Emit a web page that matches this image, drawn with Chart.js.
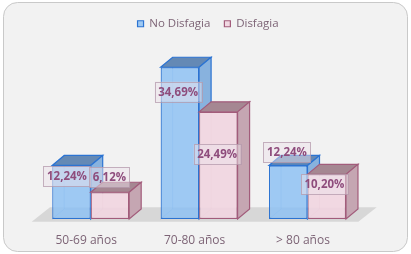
<!DOCTYPE html>
<html><head><meta charset="utf-8">
<script src="https://cdn.jsdelivr.net/npm/chart.js@4.4.1/dist/chart.umd.min.js"></script>
<style>html,body{margin:0;padding:0;background:#fff}#wrap{width:411px;height:254px;position:relative}</style>
</head><body><div id="wrap"><canvas id="c"></canvas></div>
<script>
const categories = ['50-69 años', '70-80 años', '> 80 años'];
const seriesNames = ['No Disfagia', 'Disfagia'];
const noDisfagia = [12.24, 34.69, 12.24];
const disfagia = [6.12, 24.49, 10.20];

const fmt = v => v.toFixed(2).replace('.', ',') + '%';
const TEXT = '#7d6476';
const FONT = '"Open Sans", Lato, sans-serif';

const styles = [
  {front: 'rgba(146,195,243,0.88)', top: '#6489b5', side: '#88b2de', edge: '#2b73d2', back: 'rgba(43,115,210,0.35)'},
  {front: 'rgba(241,214,225,0.92)', top: '#a58792', side: '#c5a6b2', edge: '#a25c7b', back: 'rgba(162,92,123,0.35)'}
];

function poly(ctx, pts, fill, stroke) {
  ctx.beginPath();
  ctx.moveTo(pts[0][0], pts[0][1]);
  for (let k = 1; k < pts.length; k++) ctx.lineTo(pts[k][0], pts[k][1]);
  ctx.closePath();
  if (fill) { ctx.fillStyle = fill; ctx.fill(); }
  if (stroke) { ctx.strokeStyle = stroke; ctx.lineWidth = 1.2; ctx.stroke(); }
}
function rectOf(chart, d, i) {
  const el = chart.getDatasetMeta(d).data[i];
  const p = el.getProps(['x', 'y', 'base', 'width'], true);
  return {L: p.x - p.width / 2, R: p.x + p.width / 2, T: Math.min(p.y, p.base), B: Math.max(p.y, p.base), cx: p.x};
}

const scene = {
  id: 'scene',
  beforeInit(chart) {
    const orig = chart.legend.fit;
    chart.legend.fit = function () { orig.bind(chart.legend)(); this.height = 40; };
  },
  afterLayout(chart, args, opts) {
    chart.legend.left += opts.legendShift;
    chart.legend.right += opts.legendShift;
  },
  beforeDraw(chart) {
    const ctx = chart.ctx;
    ctx.save();
    ctx.fillStyle = '#fff';
    ctx.fillRect(0, 0, chart.width, chart.height);
    ctx.beginPath();
    ctx.roundRect(3.5, 2.5, 404, 249, 14);
    ctx.fillStyle = '#f2f2f2';
    ctx.fill();
    ctx.strokeStyle = '#c9c9c9';
    ctx.lineWidth = 1;
    ctx.stroke();
    ctx.restore();
  },
  beforeDatasetsDraw(chart, args, opts) {
    const ctx = chart.ctx, a = chart.chartArea;
    const {dx, dy} = opts.depth;
    ctx.save();
    poly(ctx, [[a.left - 4.8, a.bottom + 2.7], [a.right - 3.4, a.bottom + 2.7],
               [a.right + 15, a.bottom - 11.7], [a.left + 13.5, a.bottom - 11.7]], '#d7d7d7');
    chart.data.datasets.forEach((ds, d) => {
      ds.data.forEach((v, i) => {
        const r = rectOf(chart, d, i);
        ctx.beginPath();
        ctx.moveTo(r.L + dx, r.T + dy);
        ctx.lineTo(r.L + dx, r.B + dy);
        ctx.lineTo(r.R + dx, r.B + dy);
        ctx.moveTo(r.L, r.B);
        ctx.lineTo(r.L + dx, r.B + dy);
        ctx.strokeStyle = styles[d].back;
        ctx.lineWidth = 1;
        ctx.stroke();
      });
    });
    ctx.restore();
  },
  afterDatasetsDraw(chart, args, opts) {
    const ctx = chart.ctx;
    const {dx, dy} = opts.depth;
    const nCat = chart.data.labels.length, nDs = chart.data.datasets.length;
    for (let i = 0; i < nCat; i++) {
      const rects = [];
      for (let d = 0; d < nDs; d++) rects.push(rectOf(chart, d, i));
      for (let d = 0; d < nDs; d++) {
        const r = rects[d], s = styles[d];
        ctx.save();
        ctx.beginPath();
        ctx.rect(0, 0, chart.width, chart.height);
        for (let k = d + 1; k < nDs; k++) {
          const q = rects[k];
          ctx.rect(q.L, q.T, q.R - q.L, q.B - q.T);
        }
        ctx.clip('evenodd');
        poly(ctx, [[r.L, r.T], [r.R, r.T], [r.R + dx, r.T + dy], [r.L + dx, r.T + dy]], s.top, s.edge);
        poly(ctx, [[r.R, r.T], [r.R + dx, r.T + dy], [r.R + dx, r.B + dy], [r.R, r.B]], s.side, s.edge);
        ctx.restore();
      }
    }
    // value labels
    ctx.save();
    ctx.font = 'bold 11.5px ' + FONT;
    ctx.textAlign = 'center';
    ctx.textBaseline = 'middle';
    chart.data.datasets.forEach((ds, d) => {
      ds.data.forEach((v, i) => {
        const r = rectOf(chart, d, i);
        const off = opts.labelOffsets[d][i];
        const x = r.cx + off[0], y = r.T + off[1];
        const txt = fmt(v);
        const w = ctx.measureText(txt).width + 7, h = 20;
        ctx.fillStyle = 'rgba(236,226,234,0.5)';
        ctx.fillRect(x - w / 2, y - h / 2, w, h);
        ctx.strokeStyle = 'rgba(180,154,172,0.75)';
        ctx.lineWidth = 1;
        ctx.strokeRect(Math.round(x - w / 2) + 0.5, Math.round(y - h / 2) + 0.5, Math.round(w), h);
        ctx.fillStyle = '#8e4c7c';
        ctx.fillText(txt, x, y + 0.5);
      });
    });
    ctx.restore();
  }
};

new Chart(document.getElementById('c'), {
  type: 'bar',
  data: {
    labels: categories,
    datasets: [
      {label: seriesNames[0], data: noDisfagia, backgroundColor: styles[0].front, borderColor: styles[0].edge, borderWidth: 1.2, borderSkipped: false},
      {label: seriesNames[1], data: disfagia, backgroundColor: styles[1].front, borderColor: styles[1].edge, borderWidth: 1.2, borderSkipped: false}
    ]
  },
  options: {
    responsive: true,
    maintainAspectRatio: false,
    animation: false,
    devicePixelRatio: 1,
    layout: {padding: {left: 36.5, right: 49.3, top: 4, bottom: 0}},
    datasets: {bar: {categoryPercentage: 0.71, barPercentage: 1}},
    scales: {
      x: {
        grid: {display: false, drawTicks: false},
        border: {display: false},
        ticks: {color: TEXT, font: {family: FONT, size: 12}, padding: 14, labelOffset: -4.5},
        afterFit(scale) { scale.height = 35; }
      },
      y: {display: false, min: 0, max: 40}
    },
    plugins: {
      legend: {
        position: 'top',
        labels: {boxWidth: 6, boxHeight: 6, padding: 14, color: TEXT, font: {family: FONT, size: 11.5}}
      },
      tooltip: {enabled: false},
      scene: {
        legendShift: 9,
        depth: {dx: 12, dy: -10},
        labelOffsets: [
          [[-4.5, 11], [-1.7, 24.5], [-1.3, -13]],
          [[-0.5, -15], [-1.2, 42.5], [-2.3, 10]]
        ]
      }
    }
  },
  plugins: [scene]
});
</script>
</body></html>
